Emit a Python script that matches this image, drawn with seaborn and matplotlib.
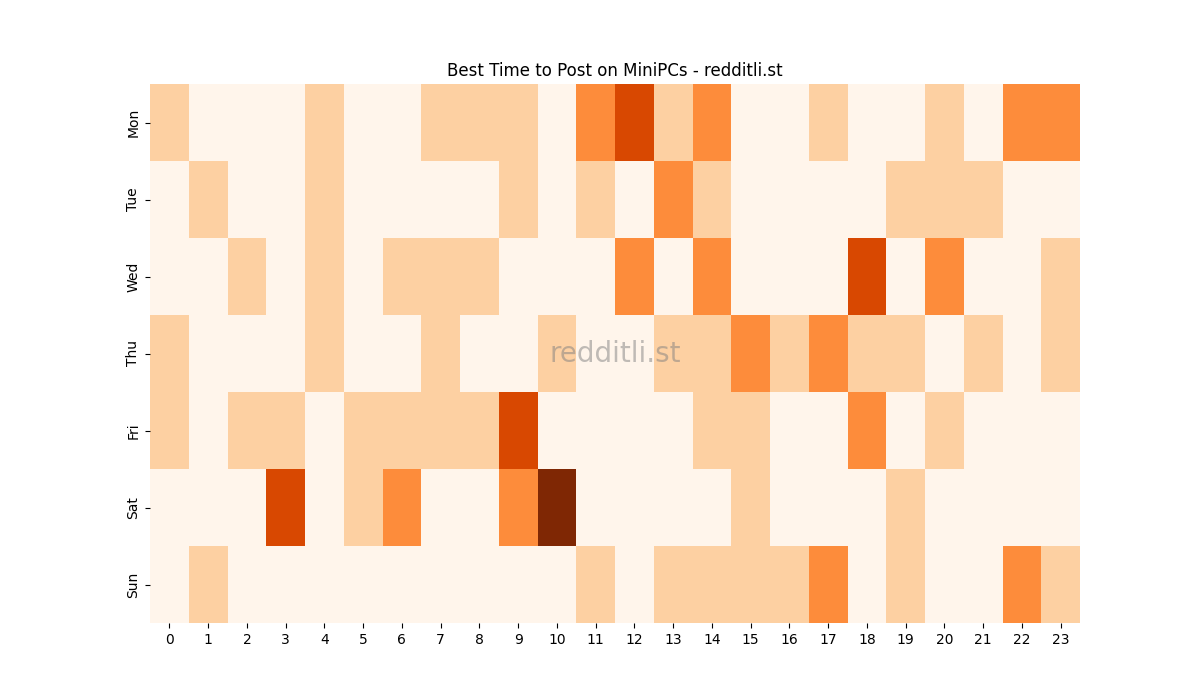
import numpy as np
import pandas as pd
import matplotlib
matplotlib.use("Agg")
import matplotlib.pyplot as plt
import seaborn as sns

days = ["Mon", "Tue", "Wed", "Thu", "Fri", "Sat", "Sun"]
hours = list(range(24))

# post counts per hour
mon = [1, 0, 0, 0, 1, 0, 0, 1, 1, 1, 0, 2, 3, 1, 2, 0, 0, 1, 0, 0, 1, 0, 2, 2]
tue = [0, 1, 0, 0, 1, 0, 0, 0, 0, 1, 0, 1, 0, 2, 1, 0, 0, 0, 0, 1, 1, 1, 0, 0]
wed = [0, 0, 1, 0, 1, 0, 1, 1, 1, 0, 0, 0, 2, 0, 2, 0, 0, 0, 3, 0, 2, 0, 0, 1]
thu = [1, 0, 0, 0, 1, 0, 0, 1, 0, 0, 1, 0, 0, 1, 1, 2, 1, 2, 1, 1, 0, 1, 0, 1]
fri = [1, 0, 1, 1, 0, 1, 1, 1, 1, 3, 0, 0, 0, 0, 1, 1, 0, 0, 2, 0, 1, 0, 0, 0]
sat = [0, 0, 0, 3, 0, 1, 2, 0, 0, 2, 4, 0, 0, 0, 0, 1, 0, 0, 0, 1, 0, 0, 0, 0]
sun = [0, 1, 0, 0, 0, 0, 0, 0, 0, 0, 0, 1, 0, 1, 1, 1, 1, 2, 0, 1, 0, 0, 2, 1]

heatmap_data = pd.DataFrame([mon, tue, wed, thu, fri, sat, sun], index=days, columns=hours)

fig = plt.figure(figsize=(12, 7), dpi=100)
ax = sns.heatmap(heatmap_data, cmap="Oranges", cbar=False)
ax.set_title("Best Time to Post on MiniPCs - redditli.st")
ax.set_xlabel("")
ax.set_ylabel("")
ax.tick_params(axis="y", rotation=90)
ax.tick_params(axis="x", rotation=0)

# watermark
ax.text(0.5, 0.5, "redditli.st", transform=ax.transAxes, fontsize=20,
        color="gray", alpha=0.5, ha="center", va="center")

plt.savefig("out.png", dpi=100)
plt.close()
